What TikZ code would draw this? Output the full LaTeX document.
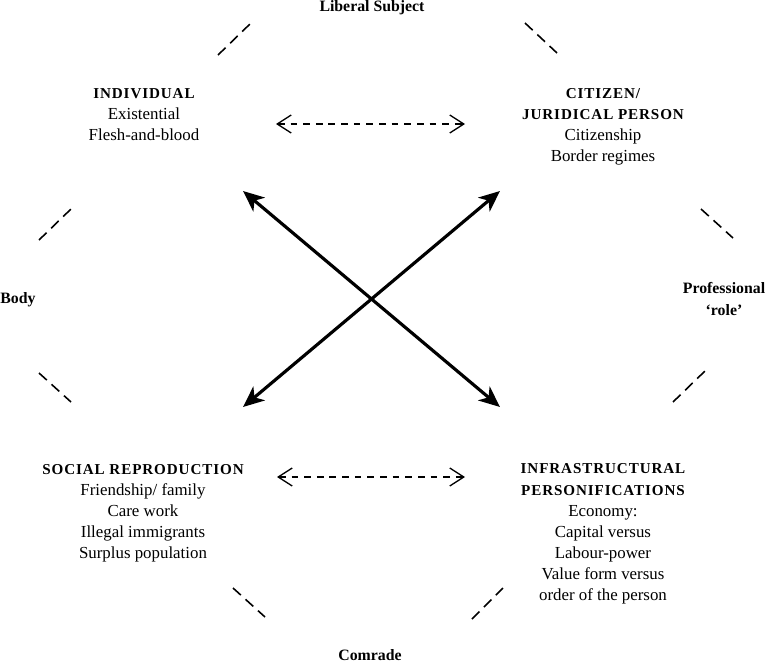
\documentclass[tikz,border=0pt]{standalone}
\usepackage{fontspec}
\setmainfont{Liberation Serif}
\newfontfamily\spacedfont[LetterSpace=6]{Liberation Serif}
\usepackage{xcolor}
\usepackage{tikz}
\usetikzlibrary{arrows.meta}

\newcommand\persHead[1]{{\fontsize{8.6}{12}\spacedfont\bfseries #1}}

\begin{document}
\begin{tikzpicture}[x=0.02cm,y=-0.02cm,
  persona/.style={align=center,inner sep=0pt,font=\fontsize{9.6}{12}\selectfont},
  facet/.style={align=center,inner sep=0pt,font=\fontsize{9}{12}\selectfont\bfseries},
  pairlink/.style={line width=0.75pt,dash pattern=on 3.8pt off 3.4pt,
    {Straight Barb[length=2.8mm,width=3.6mm]}-{Straight Barb[length=2.8mm,width=3.6mm]}},
  crosslink/.style={line width=1.8pt,
    {Stealth[length=4.2mm,width=3.6mm,inset=1.2mm]}-{Stealth[length=4.2mm,width=3.6mm,inset=1.2mm]}},
  rim/.style={line width=0.9pt,dash pattern=on 6pt off 3.6pt}]
\useasboundingbox (0,0) rectangle (768,663);

% the four figures of the person
\node[persona] (individual) at (144,115) {\persHead{INDIVIDUAL}\\Existential\\Flesh-and-blood};
\node[persona] (citizen) at (603,127) {\persHead{CITIZEN/}\\\persHead{JURIDICAL PERSON}\\Citizenship\\Border regimes};
\node[persona] (socrep) at (143,513) {\persHead{SOCIAL REPRODUCTION}\\Friendship/ family\\Care work\\Illegal immigrants\\Surplus population};
\node[persona] (infra) at (603,534) {\persHead{INFRASTRUCTURAL}\\\persHead{PERSONIFICATIONS}\\Economy:\\Capital versus\\Labour-power\\Value form versus\\order of the person};

% the facets round the rim
\node[facet] (liberal) at (372,8) {Liberal Subject};
\node[facet] (body) at (18,300) {Body};
\node[facet] (role) at (724,299) {Professional\\`role'};
\node[facet] (comrade) at (370,655) {Comrade};

% ends of the arrows
\coordinate (indA) at (276,124);
\coordinate (citA) at (465,124);
\coordinate (socA) at (277,477);
\coordinate (infA) at (465,477);
\coordinate (indX) at (243,191);
\coordinate (citX) at (500,191);
\coordinate (socX) at (243,407);
\coordinate (infX) at (500,407);

\draw[pairlink] (indA) -- (citA);
\draw[pairlink] (socA) -- (infA);
\draw[crosslink] (indX) -- (infX);
\draw[crosslink] (citX) -- (socX);

% dashed rim
\draw[rim] (218,55) -- (251,23);
\draw[rim] (525,23) -- (557,53);
\draw[rim] (701,209) -- (733,238);
\draw[rim] (673,402) -- (705,371);
\draw[rim] (472,619) -- (503,588);
\draw[rim] (233,588) -- (265,617);
\draw[rim] (39,373) -- (71,402);
\draw[rim] (39,240) -- (71,209);
\end{tikzpicture}
\end{document}
